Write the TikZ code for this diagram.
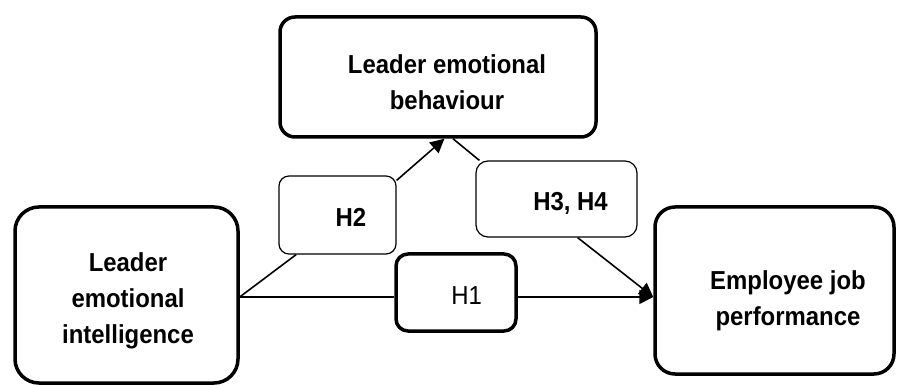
\documentclass[tikz,border=0pt]{standalone}
\usepackage{fontspec}
\setmainfont{Liberation Sans}
\newfontfamily\lblfont[FakeStretch=0.92]{Liberation Sans}
\usetikzlibrary{arrows.meta,calc}
\begin{document}
\begin{tikzpicture}[x=1pt,y=-1pt,
  bigbox/.style={draw,line width=3.5pt,inner sep=0pt,rectangle},
  smallbox/.style={draw,line width=1.2pt,inner sep=0pt,rectangle},
  txt/.style={font=\lblfont\bfseries\fontsize{26}{36}\selectfont,align=center,inner sep=0pt},
  plaintxt/.style={font=\lblfont\fontsize{26}{36}\selectfont,inner sep=0pt},
  conn/.style={line width=1.6pt},
  arr/.style={conn,-{Triangle[length=14pt,width=14pt]}}]
\fill[white] (0,0) rectangle (898,385);
\useasboundingbox (0,0) rectangle (898,385);

% boxes
\node[bigbox,rounded corners=15pt,minimum width=316pt,minimum height=120pt] (T) at (438,77) {};
\node[bigbox,rounded corners=24pt,minimum width=223pt,minimum height=176pt] (L) at (126.5,295) {};
\node[bigbox,rounded corners=20pt,minimum width=239pt,minimum height=167pt] (R) at (774.5,290.5) {};
\node[smallbox,rounded corners=10pt,minimum width=117pt,minimum height=78pt] (H2) at (337.5,215) {};
\node[smallbox,rounded corners=12pt,minimum width=161pt,minimum height=76pt] (H34) at (556.5,199) {};
\node[bigbox,rounded corners=12pt,minimum width=120pt,minimum height=77pt] (H1) at (456,292.5) {};

% texts
\node[txt] (Tt) at (447,82) {Leader emotional\\behaviour};
\node[txt] (Lt) at (128,301) {Leader\\emotional\\intelligence};
\node[txt] (Rt) at (788,301) {Employee job\\performance};
\node[txt,anchor=base] (H2t) at (351,226) {H2};
\node[txt,anchor=base] (H34t) at (570.5,211) {H3, H4};
\node[plaintxt,anchor=base] (H1t) at (466.7,305) {H1};

% connectors
\coordinate (hy) at (0,297);
\draw[conn] (L.east |- hy) -- ($(H2.south west)!0.15!(H2.south east)$);
\draw[arr] ($(H2.north east)+(0,5)$) -- ($(T.south west)!0.52!(T.south east)$);
\draw[conn] ($(T.south west)!0.547!(T.south east)$) -- ($(H34.north west)+(4,0)$);
\draw[arr] ($(H34.south west)!0.63!(H34.south east)$) -- (R.west |- hy);
\draw[conn] (L.east |- hy) -- (H1.west |- hy);
\draw[arr] (H1.east |- hy) -- (R.west |- hy);
\end{tikzpicture}
\end{document}
